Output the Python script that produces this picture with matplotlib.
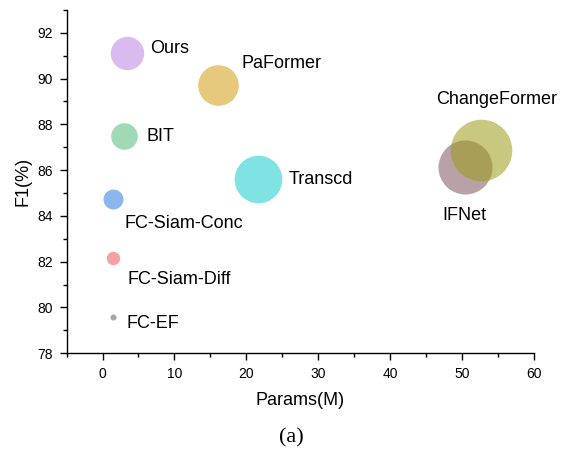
import matplotlib

matplotlib.use("Agg")

import matplotlib.pyplot as plt
from matplotlib.ticker import MultipleLocator

plt.rcParams.update(
    {
        "font.family": "sans-serif",
        "font.sans-serif": ["Liberation Sans", "DejaVu Sans"],
    }
)

# Model complexity vs. F1 on the change-detection benchmark.
models = [
    "FC-EF",
    "FC-Siam-Diff",
    "FC-Siam-Conc",
    "BIT",
    "Ours",
    "PaFormer",
    "Transcd",
    "IFNet",
    "ChangeFormer",
]
params_m = [1.39, 1.39, 1.48, 2.97, 3.34, 16.1, 21.6, 50.4, 52.6]
f1 = [79.59, 82.18, 84.76, 87.47, 91.12, 89.71, 85.6, 86.14, 86.88]
bubble = [19, 93, 207, 367, 578, 854, 1175, 1512, 1967]

colors = [
    "#a8a8a8",
    "#f4a2a2",
    "#8cb6ee",
    "#9fd9b5",
    "#d9bbef",
    "#e6c97c",
    "#7fe3e3",
    "#b9a2a5",
    "#9b9b18",
]
alphas = [1, 1, 1, 1, 1, 1, 1, 1, 0.55]

# label offsets from each bubble centre, in points
label_offsets = [
    (10, -5),
    (11, -15.5),
    (8, -18),
    (16, 0),
    (17, 3),
    (17, 15.5),
    (22, 0),
    (-16, -35),
    (-32, 36.5),
]

fig = plt.figure(figsize=(5.69, 4.5), dpi=100)
ax = fig.add_axes([0.117, 0.215, 0.8215, 0.763])

for x, y, s, c, a in zip(params_m, f1, bubble, colors, alphas):
    ax.scatter(x, y, s=s, color=c, alpha=a, linewidths=0, zorder=2)

for name, x, y, (dx, dy) in zip(models, params_m, f1, label_offsets):
    ax.annotate(
        name,
        (x, y),
        xytext=(dx, dy),
        textcoords="offset points",
        ha="left",
        va="center",
        fontsize=13,
    )

ax.set_xlim(-5, 60)
ax.set_ylim(78, 93)
ax.xaxis.set_major_locator(MultipleLocator(10))
ax.xaxis.set_minor_locator(MultipleLocator(5))
ax.yaxis.set_major_locator(MultipleLocator(2))
ax.yaxis.set_minor_locator(MultipleLocator(1))
ax.tick_params(which="major", direction="out", length=5, width=1, labelsize=10, pad=5)
ax.tick_params(which="minor", direction="out", length=3, width=1)

for side in ("top", "right"):
    ax.spines[side].set_visible(False)
for side in ("left", "bottom"):
    ax.spines[side].set_linewidth(1)

ax.set_xlabel("Params(M)", fontsize=13, labelpad=8)
ax.set_ylabel("F1(%)", fontsize=13, labelpad=4)

fig.text(0.512, 0.027, "(a)", fontsize=16, family="Liberation Serif",
         ha="center", va="center")

fig.savefig("out.png", dpi=100)
plt.close(fig)
